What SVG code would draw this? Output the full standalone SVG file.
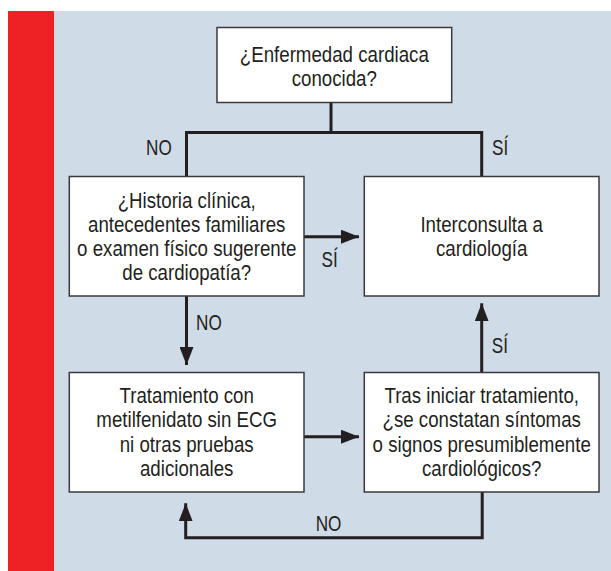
<svg xmlns="http://www.w3.org/2000/svg" width="611" height="571" viewBox="0 0 611 571">
  <defs>
    <style>
      .box { fill: #ffffff; stroke: #3a3a3c; stroke-width: 1.5; }
      .txt { font-family: "Liberation Sans", Arial, sans-serif; font-size: 22px; fill: #231f20; text-anchor: middle; }
      .lbl { font-family: "Liberation Sans", Arial, sans-serif; font-size: 22px; fill: #231f20; }
      .ln { fill: none; stroke: #231f20; stroke-width: 3; }
    </style>
    <marker id="ah" markerUnits="userSpaceOnUse" markerWidth="20" markerHeight="14" refX="18" refY="7" orient="auto">
      <path d="M0,0 L18,7 L0,14 Z" fill="#231f20"/>
    </marker>
  </defs>
  <rect x="0" y="0" width="611" height="571" fill="#ffffff"/>
  <rect x="54" y="11" width="557" height="560" fill="#d0dbe8"/>
  <rect x="8" y="11" width="46" height="560" fill="#ee2224"/>

  <g id="connectors">
    <path class="ln" d="M331,102 V132.5 M186.5,176 V132.5 H481.7 V176"/>
    <path class="ln" d="M304,236.7 H359" marker-end="url(#ah)"/>
    <path class="ln" d="M186.5,296 V365" marker-end="url(#ah)"/>
    <path class="ln" d="M481.7,372 V303.3" marker-end="url(#ah)"/>
    <path class="ln" d="M304,436.7 H359" marker-end="url(#ah)"/>
    <path class="ln" d="M482.2,492 V537.7 H185.7 V503.3" marker-end="url(#ah)"/>
    <text class="lbl" transform="translate(146 155) scale(0.78 1)">NO</text>
    <text class="lbl" transform="translate(492 155) scale(0.78 1)">SÍ</text>
    <text class="lbl" transform="translate(321.5 266.5) scale(0.78 1)">SÍ</text>
    <text class="lbl" transform="translate(196 329.5) scale(0.78 1)">NO</text>
    <text class="lbl" transform="translate(491.7 352.7) scale(0.78 1)">SÍ</text>
    <text class="lbl" transform="translate(315.7 531) scale(0.78 1)">NO</text>
  </g>

  <g id="n-enfermedad">
    <rect class="box" x="217" y="27.5" width="234.7" height="75"/>
    <text class="txt" transform="translate(334.3 61.5) scale(0.85 1)">¿Enfermedad cardiaca</text>
    <text class="txt" transform="translate(334.3 85.5) scale(0.85 1)">conocida?</text>
  </g>

  <g id="n-historia">
    <rect class="box" x="69.3" y="176.5" width="234.7" height="119.5"/>
    <text class="txt" transform="translate(186.7 207.5) scale(0.85 1)">¿Historia clínica,</text>
    <text class="txt" transform="translate(186.7 231.5) scale(0.85 1)">antecedentes familiares</text>
    <text class="txt" transform="translate(186.7 255.5) scale(0.85 1)">o examen físico sugerente</text>
    <text class="txt" transform="translate(186.7 279.7) scale(0.85 1)">de cardiopatía?</text>
  </g>

  <g id="n-interconsulta">
    <rect class="box" x="364.3" y="176.5" width="234.7" height="119.5"/>
    <text class="txt" transform="translate(481.7 231.5) scale(0.85 1)">Interconsulta a</text>
    <text class="txt" transform="translate(481.7 255.5) scale(0.85 1)">cardiología</text>
  </g>

  <g id="n-tratamiento">
    <rect class="box" x="69.3" y="372.5" width="234.7" height="119.5"/>
    <text class="txt" transform="translate(186.7 403.3) scale(0.85 1)">Tratamiento con</text>
    <text class="txt" transform="translate(186.7 427.4) scale(0.85 1)">metilfenidato sin ECG</text>
    <text class="txt" transform="translate(186.7 451.5) scale(0.85 1)">ni otras pruebas</text>
    <text class="txt" transform="translate(186.7 475.7) scale(0.85 1)">adicionales</text>
  </g>

  <g id="n-sintomas">
    <rect class="box" x="364.3" y="372.5" width="234.7" height="119.5"/>
    <text class="txt" transform="translate(481.7 403.3) scale(0.85 1)">Tras iniciar tratamiento,</text>
    <text class="txt" transform="translate(481.7 427.4) scale(0.85 1)">¿se constatan síntomas</text>
    <text class="txt" transform="translate(481.7 451.5) scale(0.85 1)">o signos presumiblemente</text>
    <text class="txt" transform="translate(481.7 475.7) scale(0.85 1)">cardiológicos?</text>
  </g>
</svg>
